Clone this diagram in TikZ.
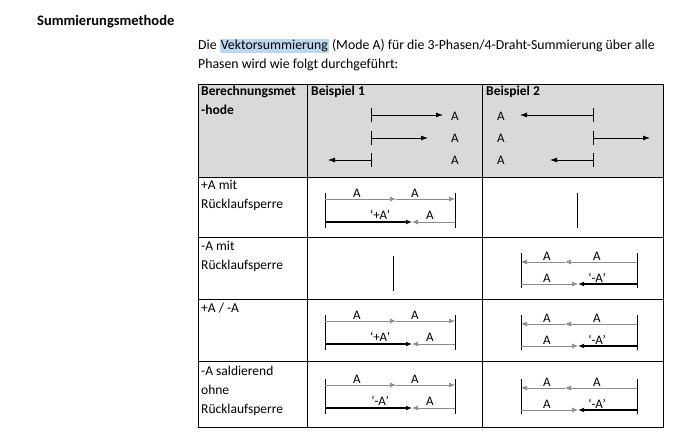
\documentclass[tikz,border=0pt]{standalone}
\usepackage{fontspec}
\setmainfont{Carlito}
\usetikzlibrary{arrows.meta}
\definecolor{hdrgray}{RGB}{217,217,217}
\definecolor{hilite}{RGB}{189,215,238}
\definecolor{arrgray}{RGB}{140,140,140}
\tikzset{
  lbl/.style={font=\fontsize{13}{14}\selectfont, inner sep=0pt},
  cell/.style={font=\fontsize{13.5}{19}\selectfont, inner sep=0pt, anchor=north west, align=left},
  thinarr/.style={arrgray, line width=0.7pt, -{Latex[length=6pt,width=5pt]}},
  thickarr/.style={black, line width=1.5pt, -{Latex[length=6pt,width=5pt]}},
  hdrarr/.style={black, line width=0.8pt, -{Latex[length=7pt,width=5pt]}},
  tick/.style={black, line width=0.9pt},
}
% forward sum (Beispiel 1): #1 = top y, #2 = result label
\newcommand\sumfwd[2]{%
  \draw[tick] (325,#1) -- ++(0,35);
  \draw[tick] (455,#1) -- ++(0,35);
  \draw[thinarr] (325,#1+6) -- (396,#1+6);
  \draw[thinarr] (396,#1+6) -- (455,#1+6);
  \draw[thinarr] (455,#1+29) -- (412,#1+29);
  \draw[thickarr] (325,#1+29) -- (412,#1+29);
  \node[lbl] at (357,#1) {A};
  \node[lbl] at (415,#1) {A};
  \node[lbl] at (380,#1+22) {#2};
  \node[lbl] at (430,#1+22) {A};
}
% backward sum (Beispiel 2)
\newcommand\sumbwd[2]{%
  \draw[tick] (521,#1) -- ++(0,35);
  \draw[tick] (637,#1) -- ++(0,35);
  \draw[thinarr] (637,#1+9) -- (565,#1+9);
  \draw[thinarr] (565,#1+9) -- (521,#1+9);
  \draw[thinarr] (521,#1+31) -- (578,#1+31);
  \draw[thickarr] (637,#1+31) -- (578,#1+31);
  \node[lbl] at (547,#1+3) {A};
  \node[lbl] at (597,#1+3) {A};
  \node[lbl] at (547,#1+25) {A};
  \node[lbl] at (597,#1+25) {#2};
}
\begin{document}
\begin{tikzpicture}[x=1pt,y=-1pt]
\useasboundingbox (0,0) rectangle (690,438);
\fill[white] (0,0) rectangle (690,438);
% heading and text
\node[anchor=west, font=\bfseries\fontsize{14.5}{16}\selectfont, inner sep=0pt] (title) at (37,22) {Summierungsmethode};
\node[anchor=north west, font=\fontsize{13.8}{19}\selectfont, inner sep=0pt, align=left] (intro) at (198,39)
  {Die {\setlength{\fboxsep}{1pt}\colorbox{hilite}{Vektorsummierung}} (Mode A) für die 3-Phasen/4-Draht-Summierung über alle\\
   Phasen wird wie folgt durchgeführt:};
% table
\fill[hdrgray] (198,84) rectangle (663,177);
\draw[line width=0.8pt] (198,84) rectangle (663,427);
\foreach \y in {177,237,299,361} \draw[line width=0.8pt] (198,\y) -- (663,\y);
\foreach \x in {307,482} \draw[line width=0.8pt] (\x,84) -- (\x,427);
% header
\node[cell, font=\bfseries\fontsize{13.5}{19}\selectfont] (hmeth) at (201,86) {Berechnungsmet\\-hode};
\node[cell, font=\bfseries\fontsize{13.5}{19}\selectfont] (hbsp1) at (311,86) {Beispiel 1};
\node[cell, font=\bfseries\fontsize{13.5}{19}\selectfont] (hbsp2) at (486,86) {Beispiel 2};
\foreach \y in {116,138,160} {
  \node[lbl] at (455,\y) {A};
  \node[lbl] at (501,\y) {A};
}
\draw[tick] (371,108) -- (371,122);
\draw[tick] (371,131) -- (371,145);
\draw[tick] (371,153) -- (371,167);
\draw[hdrarr] (371,115) -- (443,115);
\draw[hdrarr] (371,138) -- (428,138);
\draw[hdrarr] (371,160) -- (328,160);
\draw[tick] (593,108) -- (593,122);
\draw[tick] (593,131) -- (593,145);
\draw[tick] (593,153) -- (593,167);
\draw[hdrarr] (593,115) -- (520,115);
\draw[hdrarr] (593,138) -- (650,138);
\draw[hdrarr] (593,160) -- (550,160);
% row labels
\node[cell] (r1) at (201,180) {+A mit\\Rücklaufsperre};
\node[cell] (r2) at (201,241) {-A mit\\Rücklaufsperre};
\node[cell] (r3) at (201,303) {+A / -A};
\node[cell] (r4) at (201,366) {-A saldierend\\ohne\\Rücklaufsperre};
% cells
\sumfwd{193}{`+A’}
\draw[tick] (577,193) -- (577,228);
\draw[tick] (393,256) -- (393,291);
\sumbwd{253}{`-A’}
\sumfwd{315}{`+A’}
\sumbwd{315}{`-A’}
\sumfwd{379}{`-A’}
\sumbwd{379}{`-A’}
\end{tikzpicture}
\end{document}
